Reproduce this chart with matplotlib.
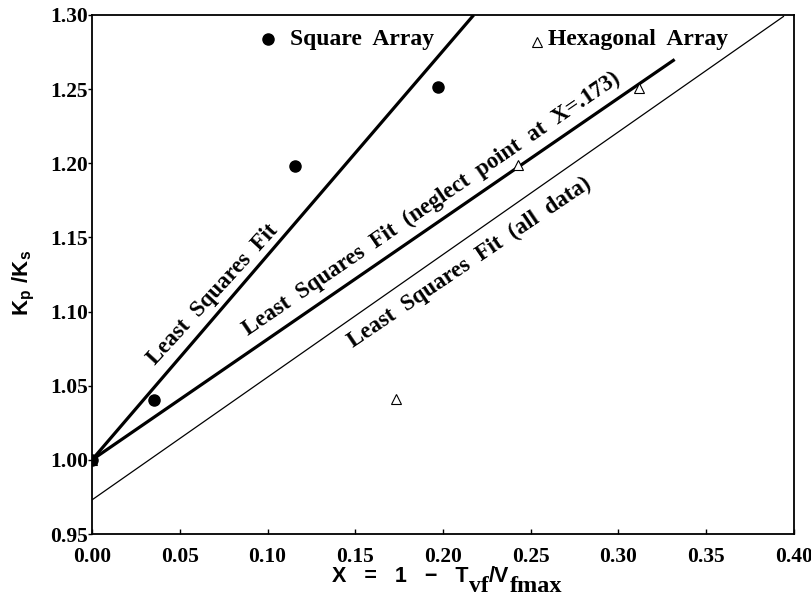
import matplotlib
matplotlib.use("Agg")
import matplotlib.pyplot as plt

# ---- data ----
square_x = [0.0, 0.0355, 0.1157, 0.197]
square_y = [1.000, 1.0405, 1.198, 1.2515]
hex_x = [0.0, 0.1732, 0.2427, 0.3117]
hex_y = [1.000, 1.041, 1.199, 1.2508]

fit_square_x = [0.0, 0.2175]
fit_square_y = [1.000, 1.300]
fit_neglect_x = [0.0, 0.332]
fit_neglect_y = [1.000, 1.270]
fit_all_x = [0.0, 0.394]
fit_all_y = [0.973, 1.299]

x_ticks = [0.00, 0.05, 0.10, 0.15, 0.20, 0.25, 0.30, 0.35, 0.40]
y_ticks = [0.95, 1.00, 1.05, 1.10, 1.15, 1.20, 1.25, 1.30]

plt.rcParams['mathtext.fontset'] = 'custom'
plt.rcParams['mathtext.sf'] = 'Liberation Sans:bold'
plt.rcParams['mathtext.rm'] = 'Liberation Sans:bold'
plt.rcParams['mathtext.bf'] = 'Liberation Serif:bold'

SERIF = 'Liberation Serif'
SANS = 'Liberation Sans'

fig = plt.figure(figsize=(8.12, 6.06), dpi=100)
ax = fig.add_axes([92/812, 1-534/606, 702/812, 519/606])

ax.plot(fit_square_x, fit_square_y, color='black', lw=2.3, solid_capstyle='butt')
ax.plot(fit_neglect_x, fit_neglect_y, color='black', lw=2.3, solid_capstyle='butt')
ax.plot(fit_all_x, fit_all_y, color='black', lw=0.9)

ax.plot(hex_x, hex_y, linestyle='none', marker='^', markersize=7.5,
        markerfacecolor='white', markeredgecolor='black', markeredgewidth=0.8)
ax.plot(square_x, square_y, linestyle='none', marker='o', markersize=8,
        color='black')

ax.set_xlim(0.0, 0.40)
ax.set_ylim(0.95, 1.30)
ax.set_xticks(x_ticks)
ax.set_yticks(y_ticks)
ax.set_xticklabels([f"{v:.2f}" for v in x_ticks], fontfamily=SERIF, fontweight='bold', fontsize=15.5)
ax.set_yticklabels([f"{v:.2f}" for v in y_ticks], fontfamily=SERIF, fontweight='bold', fontsize=15.5)
ax.tick_params(axis='x', direction='in', length=3.8, width=1.0, pad=9, top=False)
ax.tick_params(axis='y', direction='out', length=2.6, width=1.0, pad=0.3, right=False)
for s in ax.spines.values():
    s.set_linewidth(1.3)

# x-axis label built from pieces: sans main text with large serif subscripts
t1 = ax.text(0.342, -0.062, 'X   =   1   \u2212   T', transform=ax.transAxes, ha='left', va='top',
             fontfamily=SANS, fontweight='bold', fontsize=15.5)
t2 = ax.annotate('vf', xy=(1, 0), xycoords=t1, xytext=(0, -3.5), textcoords='offset points',
                 ha='left', va='baseline', fontfamily=SERIF, fontweight='bold', fontsize=17)
t3 = ax.annotate('/V', xy=(1, 0), xycoords=(t2, t1), ha='left', va='bottom',
                 fontfamily=SANS, fontweight='bold', fontsize=15.5)
t4 = ax.annotate('fmax', xy=(1, 0), xycoords=(t3, t1), xytext=(1, -3.5), textcoords='offset points',
                 ha='left', va='baseline', fontfamily=SERIF, fontweight='bold', fontsize=17.5)

ax.set_ylabel(r'$\mathsf{K_p\ /K_s}$', fontsize=16)
ax.yaxis.set_label_coords(-0.078, 0.484)

# legend-like annotations
ax.plot([0.2507], [0.9538], transform=ax.transAxes, marker='o', markersize=8,
        color='black', linestyle='none', clip_on=False)
ax.text(0.282, 0.952, 'Square  Array', transform=ax.transAxes, ha='left', va='center',
        fontfamily=SERIF, fontweight='bold', fontsize=17)
ax.plot([0.634], [0.9485], transform=ax.transAxes, marker='^', markersize=7.5,
        markerfacecolor='white', markeredgecolor='black', markeredgewidth=0.8,
        linestyle='none', clip_on=False)
ax.text(0.6496, 0.952, 'Hexagonal  Array', transform=ax.transAxes, ha='left', va='center',
        fontfamily=SERIF, fontweight='bold', fontsize=17)

ax.text(0.0691, 1.1115, 'Least  Squares  Fit', rotation=47.5, rotation_mode='anchor',
        ha='center', va='center', fontfamily=SERIF, fontweight='bold', fontsize=16.5)
ax.text(0.1935, 1.1725, 'Least  Squares  Fit  (neglect  point  at  X=.173)', rotation=34.3,
        rotation_mode='anchor', ha='center', va='center', fontfamily=SERIF,
        fontweight='bold', fontsize=16.5)
ax.text(0.2154, 1.1328, 'Least  Squares  Fit  (all  data)', rotation=34.0,
        rotation_mode='anchor', ha='center', va='center', fontfamily=SERIF,
        fontweight='bold', fontsize=16.5)

fig.savefig('out.png', dpi=100)
